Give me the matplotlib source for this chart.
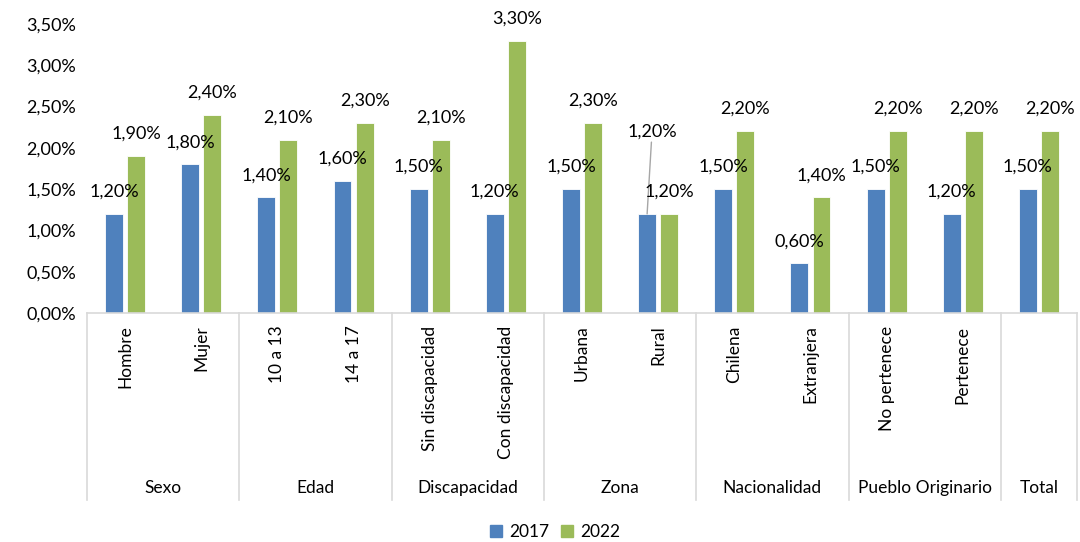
import numpy as np
import matplotlib
matplotlib.use('Agg')
import matplotlib.pyplot as plt
from matplotlib.patches import Patch
from matplotlib.ticker import FuncFormatter

plt.rcParams['font.family'] = ['Lato', 'DejaVu Sans']

categorias = ['Hombre', 'Mujer', '10 a 13', '14 a 17', 'Sin discapacidad',
              'Con discapacidad', 'Urbana', 'Rural', 'Chilena', 'Extranjera',
              'No pertenece', 'Pertenece', '']
grupos = ['Sexo', 'Edad', 'Discapacidad', 'Zona', 'Nacionalidad',
          'Pueblo Originario', 'Total']
grupo_tam = [2, 2, 2, 2, 2, 2, 1]
v2017 = [1.2, 1.8, 1.4, 1.6, 1.5, 1.2, 1.5, 1.2, 1.5, 0.6, 1.5, 1.2, 1.5]
v2022 = [1.9, 2.4, 2.1, 2.3, 2.1, 3.3, 2.3, 1.2, 2.2, 1.4, 2.2, 2.2, 2.2]

azul = '#4F81BD'
verde = '#9BBB59'
gris = '#d9d9d9'

def pct(v):
    return ('%.2f%%' % v).replace('.', ',')

fig = plt.figure(figsize=(10.8, 5.42), dpi=100)
ax = fig.add_axes([87/1080, (542-313)/542, 990/1080, 289/542])

x = np.arange(len(categorias))
w = 0.235
off = 0.145
b1 = ax.bar(x - off, v2017, w, color=azul, edgecolor='white', linewidth=0.6)
b2 = ax.bar(x + off, v2022, w, color=verde, edgecolor='white', linewidth=0.6)

ax.set_xlim(-0.5, len(categorias) - 0.5)
ax.set_ylim(0, 3.5)
ax.set_yticks(np.arange(0, 3.51, 0.5))
ax.yaxis.set_major_formatter(FuncFormatter(lambda v, p: pct(v)))
ax.tick_params(axis='y', length=0, labelsize=13, pad=8)
ax.set_xticks(x)
ax.set_xticklabels(categorias, rotation=90, fontsize=12.5)
ax.tick_params(axis='x', length=0, pad=9)

for s in ['left', 'top', 'right']:
    ax.spines[s].set_visible(False)
ax.spines['bottom'].set_color(gris)
ax.spines['bottom'].set_linewidth(1.2)

# etiquetas de datos
for i in range(len(categorias)):
    if categorias[i] == 'Rural':
        ax.annotate(pct(v2017[i]), xy=(x[i] - off, v2017[i]),
                    xytext=(x[i] - 0.08, v2017[i] + 1.0), ha='center', va='center',
                    fontsize=13, annotation_clip=False,
                    arrowprops=dict(arrowstyle='-', color='#a6a6a6', lw=1,
                                    shrinkA=0, shrinkB=0))
    else:
        ax.annotate(pct(v2017[i]), xy=(x[i] - off, v2017[i]), xytext=(0, 16),
                    textcoords='offset points', ha='center', va='center',
                    fontsize=13, annotation_clip=False)
    ax.annotate(pct(v2022[i]), xy=(x[i] + off, v2022[i]), xytext=(0, 16),
                textcoords='offset points', ha='center', va='center',
                fontsize=13, annotation_clip=False)

# ejes de grupo
trans = ax.get_xaxis_transform()
bordes = np.concatenate([[0], np.cumsum(grupo_tam)]) - 0.5
for b in bordes:
    ax.plot([b, b], [0, -0.647], color=gris, lw=1.2, transform=trans, clip_on=False)
for g in range(len(grupos)):
    cx = (bordes[g] + bordes[g + 1]) / 2
    ax.text(cx, -0.606, grupos[g], transform=trans, ha='center', va='center',
            fontsize=12.5)

fig.legend(handles=[Patch(color=azul, label='2017'), Patch(color=verde, label='2022')],
           loc='center', bbox_to_anchor=(555/1080, 1 - 532/542), ncol=2,
           frameon=False, fontsize=12.5, handlelength=0.7, handleheight=0.7,
           handletextpad=0.4, columnspacing=0.7)

fig.savefig('out.png', dpi=100)
